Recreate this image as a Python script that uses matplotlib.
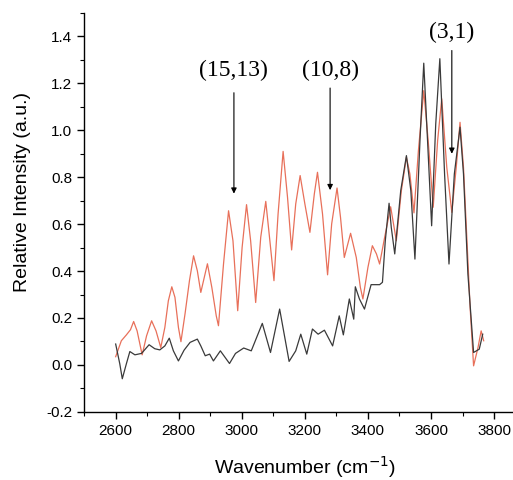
import numpy as np
import matplotlib
matplotlib.use("Agg")
import matplotlib.pyplot as plt
from matplotlib.ticker import MultipleLocator

# red spectrum
red_wn = [2600, 2618, 2634, 2647, 2657, 2668, 2684, 2698, 2714, 2728,
          2743, 2756, 2767, 2778, 2788, 2799, 2807, 2820, 2834, 2847,
          2859, 2870, 2881, 2891, 2905, 2919, 2926, 2942, 2958, 2972,
          2987, 3001, 3015, 3028, 3044, 3060, 3076, 3089, 3102, 3115,
          3131, 3145, 3158, 3171, 3185, 3200, 3216, 3230, 3240, 3256,
          3272, 3285, 3302, 3313, 3325, 3345, 3363, 3376, 3384, 3400,
          3414, 3427, 3437, 3453, 3472, 3490, 3506, 3522, 3533, 3546,
          3560, 3577, 3591, 3607, 3621, 3634, 3650, 3666, 3680, 3692,
          3703, 3714, 3724, 3735, 3749, 3759, 3767]
red_int = [0.035, 0.103, 0.128, 0.150, 0.185, 0.145, 0.043, 0.124, 0.188, 0.145,
           0.074, 0.160, 0.273, 0.333, 0.288, 0.160, 0.099, 0.218, 0.359, 0.465,
           0.401, 0.309, 0.373, 0.431, 0.330, 0.209, 0.167, 0.430, 0.657, 0.529,
           0.231, 0.501, 0.683, 0.529, 0.266, 0.544, 0.697, 0.529, 0.359, 0.643,
           0.910, 0.714, 0.490, 0.686, 0.807, 0.686, 0.565, 0.729, 0.821, 0.643,
           0.384, 0.601, 0.754, 0.629, 0.458, 0.561, 0.458, 0.330, 0.281, 0.416,
           0.508, 0.473, 0.430, 0.544, 0.674, 0.529, 0.743, 0.885, 0.814, 0.648,
           0.913, 1.169, 0.956, 0.672, 0.956, 1.134, 0.842, 0.650, 0.842, 1.034,
           0.842, 0.529, 0.245, -0.004, 0.074, 0.145, 0.103]

# black spectrum
black_wn = [2600, 2613, 2621, 2634, 2645, 2661, 2682, 2706, 2724, 2740,
            2756, 2770, 2783, 2799, 2817, 2836, 2859, 2870, 2884, 2898,
            2910, 2932, 2961, 2980, 3006, 3030, 3065, 3091, 3120, 3150,
            3171, 3187, 3206, 3224, 3242, 3262, 3288, 3309, 3322, 3341,
            3355, 3360, 3373, 3389, 3410, 3437, 3446, 3455, 3467, 3474,
            3485, 3504, 3522, 3536, 3549, 3565, 3577, 3589, 3602, 3615,
            3628, 3643, 3657, 3674, 3692, 3703, 3717, 3735, 3753, 3764]
black_int = [0.089, 0.005, -0.059, 0.005, 0.057, 0.043, 0.049, 0.086, 0.069, 0.064,
             0.081, 0.114, 0.060, 0.017, 0.063, 0.096, 0.110, 0.081, 0.039, 0.046,
             0.017, 0.060, 0.006, 0.049, 0.072, 0.060, 0.177, 0.053, 0.238, 0.015,
             0.060, 0.131, 0.046, 0.153, 0.131, 0.148, 0.081, 0.209, 0.128, 0.281,
             0.195, 0.333, 0.281, 0.238, 0.342, 0.342, 0.352, 0.529, 0.689, 0.586,
             0.473, 0.743, 0.892, 0.743, 0.451, 0.956, 1.286, 0.956, 0.593, 1.027,
             1.305, 0.814, 0.430, 0.814, 1.013, 0.814, 0.387, 0.053, 0.067, 0.131]

# annotations: label, text position, arrow tail / tip heights
labels = ["(15,13)", "(10,8)", "(3,1)"]
label_wn = [2975, 3280, 3666]
label_y = [1.255, 1.255, 1.415]
arrow_tail = [1.16, 1.18, 1.34]
arrow_tip = [0.73, 0.745, 0.90]

fig = plt.figure(figsize=(5.13, 4.80), dpi=100)
ax = fig.add_axes([0.164, 0.142, 0.836, 0.831])

ax.plot(red_wn, red_int, color="#e8705a", linewidth=0.9)
ax.plot(black_wn, black_int, color="#3a3a3a", linewidth=0.9)

for text, x, y, y0, y1 in zip(labels, label_wn, label_y, arrow_tail, arrow_tip):
    ax.text(x, y, text, ha="center", va="center", fontsize=17,
            family="Liberation Serif")
    ax.annotate("", xy=(x, y1), xytext=(x, y0),
                arrowprops=dict(arrowstyle="-|>", color="black", lw=0.8,
                                mutation_scale=8, shrinkA=0, shrinkB=0))

ax.set_xlim(2500, 3860)
ax.set_ylim(-0.2, 1.5)
ax.set_xticks(range(2600, 3801, 200))
ax.xaxis.set_minor_locator(MultipleLocator(100))
ax.yaxis.set_major_locator(MultipleLocator(0.2))
ax.yaxis.set_minor_locator(MultipleLocator(0.1))
ax.yaxis.set_major_formatter(plt.FuncFormatter(lambda v, p: f"{v:.1f}"))

for side in ["top", "right"]:
    ax.spines[side].set_visible(False)
for side in ["left", "bottom"]:
    ax.spines[side].set_linewidth(1.0)
ax.tick_params(which="major", direction="out", length=5, width=1.0)
ax.tick_params(which="minor", direction="out", length=3, width=0.8)
for lab in ax.get_xticklabels() + ax.get_yticklabels():
    lab.set_family("Liberation Sans")
    lab.set_fontsize(11)

fig.text(0.043, 0.6, "Relative Intensity (a.u.)", rotation=90, ha="center",
         va="center", fontsize=14, family="Liberation Sans")
fig.text(0.594, 0.027, "Wavenumber (cm$^{-1}$)", ha="center", va="center",
         fontsize=14, family="Liberation Sans")

fig.savefig("out.png", dpi=100)
